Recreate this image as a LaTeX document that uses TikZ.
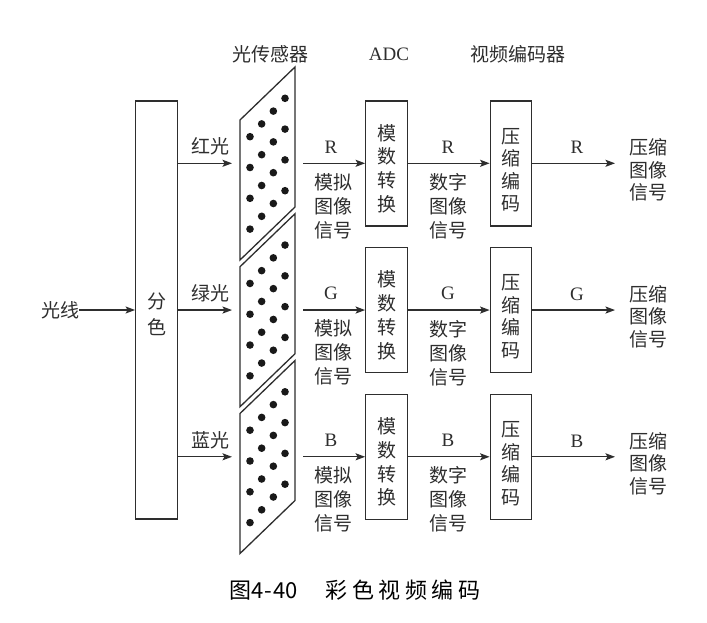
\documentclass[tikz,border=0pt]{standalone}
\usepackage{fontspec}
\setmainfont{Liberation Serif}
\newfontfamily\cjk{Noto Sans CJK SC}
\usetikzlibrary{arrows.meta}
\definecolor{ink}{gray}{0.18}
\begin{document}
\begin{tikzpicture}[x=1pt,y=-1pt,
  line/.style={draw=ink,line width=1.3pt},
  arr/.style={line,-{Stealth[length=9.5pt,width=7pt,inset=2pt]}},
  lbl/.style={text=ink,font=\cjk\fontsize{19}{24}\selectfont,inner sep=0pt,align=center},
  ltr/.style={text=ink,font=\fontsize{19}{22}\selectfont,inner sep=0pt},
  blk/.style={line,rectangle,minimum width=41.5pt,minimum height=125pt,inner sep=0pt},
  dot/.style={fill=black!90}]
\useasboundingbox (0,0) rectangle (707,623);
\fill[white] (0,0) rectangle (707,623);

% top labels
\node[lbl] (tsens) at (270,54) {光传感器};
\node[ltr] (tadc) at (389,54) {ADC};
\node[lbl] (tenc) at (518,54) {视频编码器};

% input
\node[lbl] (light) at (60,310) {光线};
\node[line,rectangle,minimum width=41.5pt,minimum height=418pt,inner sep=0pt] (split) at (156.5,310) {};
\node[lbl,text width=20pt,font=\cjk\fontsize{19}{26}\selectfont] (splittxt) at (156.5,314) {分\\色};
\draw[arr] (light.east) -- (split.west);

\foreach \i/\col/\ch in {0/红光/R,1/绿光/G,2/蓝光/B}{
  \pgfmathsetmacro{\dy}{146.75*\i}
  % sensor
  \draw[line,fill=white] (240,{120+\dy}) -- (295,{67+\dy}) -- (295,{207+\dy}) -- (240,{260+\dy}) -- cycle;
  \foreach \k in {0,...,3}{
    \foreach \m in {0,...,3}{
      \fill[dot] ({250+11.67*\k},{136.7-12.8*\k+30.8*\m+\dy}) circle (3.8);
    }
  }
  \coordinate (sin\i) at (232,{163.3+\dy});
  \coordinate (sout\i) at (303,{163.3+\dy});
  \draw[arr] (split.east |- sin\i) -- (sin\i);
  \node[lbl] (col\i) at (210,{146.7+\dy}) {\col};
  % ADC
  \node[blk] (adc\i) at (386.5,{163.5+\dy}) {};
  \node[lbl,font=\cjk\fontsize{19}{23.8}\selectfont,text width=20pt] (adct\i) at (386.5,{168.5+\dy}) {模\\数\\转\\换};
  \draw[arr] (sout\i) -- (adc\i.west |- sout\i);
  \node[ltr] (ra\i) at (331,{147+\dy}) {\ch};
  \node[lbl] (ana\i) at (333,{206+\dy}) {模拟\\图像\\信号};
  % encoder
  \node[blk] (enc\i) at (511,{163.5+\dy}) {};
  \node[lbl,font=\cjk\fontsize{19}{22.5}\selectfont,text width=20pt] (enct\i) at (511,{170+\dy}) {压\\缩\\编\\码};
  \draw[arr] (adc\i.east |- sout\i) -- (enc\i.west |- sout\i);
  \node[ltr] (rd\i) at (448,{147+\dy}) {\ch};
  \node[lbl] (dig\i) at (448,{206+\dy}) {数字\\图像\\信号};
  % output
  \coordinate (out\i) at (615,{163.3+\dy});
  \draw[arr] (enc\i.east |- out\i) -- (out\i);
  \node[ltr] (rc\i) at (577,{147.5+\dy}) {\ch};
  \node[lbl,font=\cjk\fontsize{19}{22.5}\selectfont] (cmp\i) at (648,{170+\dy}) {压缩\\图像\\信号};
}

% caption
\node[inner sep=0pt,font=\cjk\fontsize{22}{24}\selectfont,text=black] (cap) at (355,590) {图4\hspace{1pt}-\hspace{1pt}40\hspace{28pt}彩\hspace{4.5pt}色\hspace{4.5pt}视\hspace{4.5pt}频\hspace{4.5pt}编\hspace{4.5pt}码};
\end{tikzpicture}
\end{document}
